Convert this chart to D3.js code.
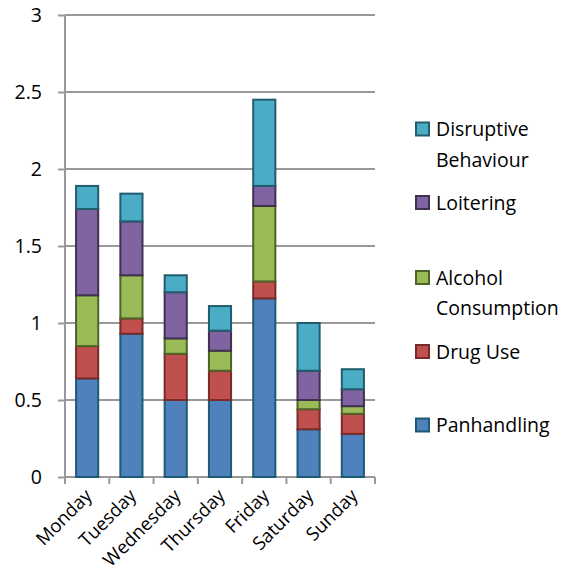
<!DOCTYPE html>
<html>
<head>
<meta charset="utf-8">
<script src="https://cdn.jsdelivr.net/npm/d3@7/dist/d3.min.js"></script>
<style>
  html, body { margin: 0; padding: 0; background: #fff; }
  svg text { font-family: "Open Sans", Lato, sans-serif; fill: #000; }
</style>
</head>
<body>
<svg id="chart" width="573" height="575"></svg>
<script>
// Days of the week along the x axis
const days = ["Monday", "Tuesday", "Wednesday", "Thursday", "Friday", "Saturday", "Sunday"];

// Incident categories, stacked bottom to top
const categories = ["Panhandling", "Drug Use", "Alcohol Consumption", "Loitering", "Disruptive Behaviour"];

// Values per category, one per day
const panhandling = [0.64, 0.93, 0.50, 0.50, 1.16, 0.31, 0.28];
const drugUse     = [0.21, 0.10, 0.30, 0.19, 0.11, 0.13, 0.13];
const alcohol     = [0.33, 0.28, 0.10, 0.13, 0.49, 0.06, 0.05];
const loitering   = [0.56, 0.35, 0.30, 0.13, 0.13, 0.19, 0.11];
const disruptive  = [0.15, 0.18, 0.11, 0.16, 0.56, 0.31, 0.13];

const yTicks = [0, 0.5, 1, 1.5, 2, 2.5, 3];
const yTickLabels = ["0", "0.5", "1", "1.5", "2", "2.5", "3"];

const fills   = ["#4F81BD", "#C0504D", "#9BBB59", "#8064A2", "#4BACC6"];
const strokes = ["#1F5A74", "#7A2B29", "#4F6228", "#3F3151", "#215D6E"];

const seriesValues = [panhandling, drugUse, alcohol, loitering, disruptive];
const rows = days.map((d, i) => {
  const r = { day: d };
  categories.forEach((c, k) => { r[c] = seriesValues[k][i]; });
  return r;
});
const stacked = d3.stack().keys(categories)(rows);

const svg = d3.select("#chart");
const plotLeft = 65, plotRight = 375, plotTop = 15, plotBottom = 477;
const fontSize = 19.5;

const x = d3.scaleBand().domain(days).range([plotLeft, plotRight]).paddingInner(0.5).paddingOuter(0.25);
const y = d3.scaleLinear().domain([0, 3]).range([plotBottom, plotTop]);

// Horizontal gridlines
svg.append("g")
  .selectAll("line")
  .data(yTicks.slice(1))
  .join("line")
  .attr("x1", plotLeft).attr("x2", plotRight)
  .attr("y1", d => y(d)).attr("y2", d => y(d))
  .attr("stroke", "#999").attr("stroke-width", 2);

// Y axis
const yAxis = svg.append("g")
  .attr("transform", `translate(${plotLeft},0)`)
  .call(d3.axisLeft(y).tickValues(yTicks).tickFormat((d, i) => yTickLabels[i]).tickSize(7).tickPadding(16));
yAxis.select(".domain").attr("stroke", "#999").attr("stroke-width", 2).attr("d", `M0,${plotTop}V${plotBottom}`);
yAxis.selectAll(".tick line").attr("stroke", "#999").attr("stroke-width", 2);
yAxis.selectAll(".tick text").attr("font-size", fontSize).attr("font-family", "'Open Sans', sans-serif");

// X axis with ticks between categories
const xBase = svg.append("g");
xBase.append("line")
  .attr("x1", plotLeft).attr("x2", plotRight)
  .attr("y1", plotBottom).attr("y2", plotBottom)
  .attr("stroke", "#999").attr("stroke-width", 2);
const step = x.step();
xBase.selectAll("line.tk")
  .data(d3.range(days.length + 1))
  .join("line")
  .attr("class", "tk")
  .attr("x1", i => plotLeft + i * step).attr("x2", i => plotLeft + i * step)
  .attr("y1", plotBottom).attr("y2", plotBottom + 7)
  .attr("stroke", "#999").attr("stroke-width", 2);

// Stacked bars
svg.append("g")
  .selectAll("g")
  .data(stacked)
  .join("g")
  .attr("fill", (s, k) => fills[k])
  .attr("stroke", (s, k) => strokes[k])
  .attr("stroke-width", 2)
  .selectAll("rect")
  .data(s => s)
  .join("rect")
  .attr("x", d => x(d.data.day))
  .attr("width", x.bandwidth())
  .attr("y", d => y(d[1]))
  .attr("height", d => y(d[0]) - y(d[1]));

// Rotated day labels
svg.append("g")
  .selectAll("text")
  .data(days)
  .join("text")
  .attr("text-anchor", "end")
  .attr("font-size", 18.5)
  .attr("transform", d => `translate(${x(d) + x.bandwidth() / 2 + 6},${plotBottom + 20}) rotate(-45)`)
  .text(d => d);

// Legend
const legendItems = [
  { k: 4, lines: ["Disruptive", "Behaviour"], sq: 122.5 },
  { k: 3, lines: ["Loitering"], sq: 196 },
  { k: 2, lines: ["Alcohol", "Consumption"], sq: 271 },
  { k: 1, lines: ["Drug Use"], sq: 345 },
  { k: 0, lines: ["Panhandling"], sq: 418.5 }
];
const legend = svg.append("g");
legendItems.forEach(it => {
  legend.append("rect")
    .attr("x", 416).attr("y", it.sq)
    .attr("width", 13).attr("height", 13)
    .attr("fill", fills[it.k]).attr("stroke", strokes[it.k]).attr("stroke-width", 2);
  it.lines.forEach((t, j) => {
    legend.append("text")
      .attr("x", 436).attr("y", it.sq + 13.5 + j * 30.5)
      .attr("font-size", fontSize)
      .text(t);
  });
});
</script>
</body>
</html>
